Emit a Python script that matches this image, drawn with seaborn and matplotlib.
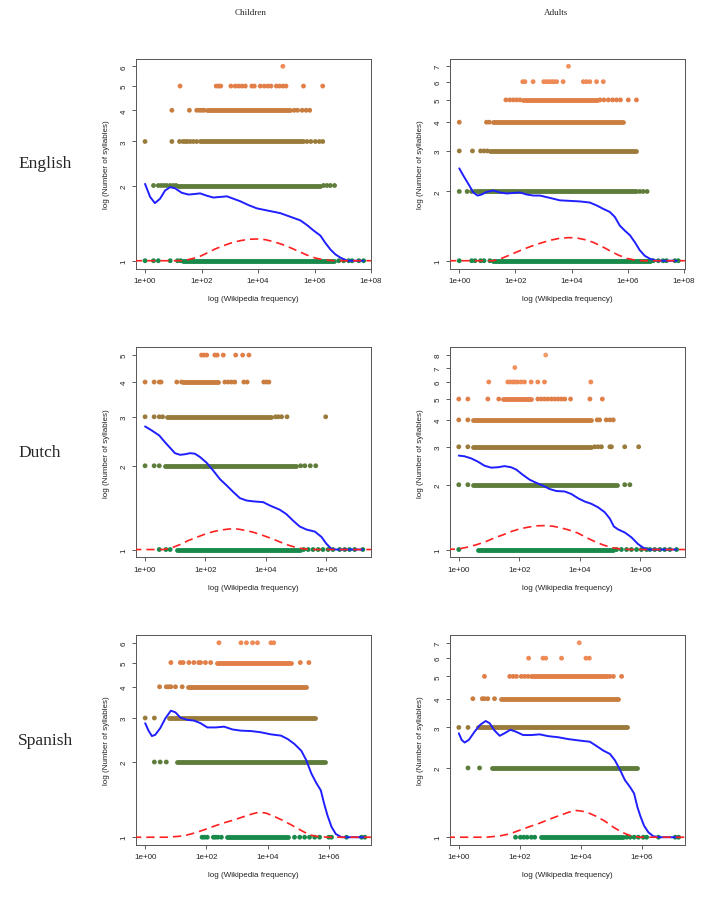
import numpy as np
import pandas as pd
import matplotlib
matplotlib.use("Agg")
import matplotlib.pyplot as plt
import seaborn as sns
from matplotlib.ticker import FixedLocator, FuncFormatter, NullLocator

# x = log10(Wikipedia frequency), y = number of syllables
languages = ["English", "Dutch", "Spanish"]
groups = ["Children", "Adults"]

level_colors = {1: "#17894a", 2: "#5e7d3b", 3: "#9b7b3b", 4: "#c97d3e",
                5: "#e27e47", 6: "#ee8a55", 7: "#f19261", 8: "#f39a69"}

# ---- English, children
en_child_xlim = (-0.32, 8.0)
en_child_bands = [(1, 1.36, 6.68), (2, 1.18, 6.2), (3, 1.95, 5.61), (4, 2.19, 5.14)]
en_child_dots = {
    1: [0, 0.3, 0.47, 0.89, 1.15, 1.26, 6.86, 7.03, 7.21, 7.33, 7.57, 7.74],
    2: [0.3, 0.47, 0.57, 0.67, 0.77, 0.89, 1.0, 1.1, 6.32, 6.44, 6.56, 6.71],
    3: [0, 0.95, 1.22, 1.34, 1.42, 1.5, 1.6, 1.71, 1.83, 5.73, 5.87, 6.03, 6.17, 6.29],
    4: [0.95, 1.57, 1.83, 1.93, 2.01, 2.09, 5.28, 5.4, 5.56, 5.7, 5.83],
    5: [1.24, 2.52, 2.61, 2.68, 3.04, 3.19, 3.31, 3.43, 3.55, 3.78, 3.87, 4.08, 4.22,
        4.35, 4.46, 4.65, 4.76, 4.88, 4.99, 5.61, 6.29],
    6: [4.88],
}
en_child_smooth_x = [0, 0.18, 0.35, 0.53, 0.71, 0.89, 1.06, 1.3, 1.54, 1.77, 1.95, 2.19, 2.42,
                     2.66, 2.9, 3.13, 3.37, 3.66, 3.96, 4.31, 4.79, 5.14, 5.5, 5.73, 5.97,
                     6.21, 6.38, 6.56, 6.74, 6.91, 7.15, 7.74]
en_child_smooth_y = [2.03, 1.80, 1.70, 1.77, 1.91, 1.97, 1.95, 1.87, 1.84, 1.85, 1.86, 1.82, 1.79,
                     1.80, 1.81, 1.77, 1.73, 1.67, 1.62, 1.59, 1.55, 1.50, 1.45, 1.39, 1.32,
                     1.26, 1.18, 1.11, 1.06, 1.03, 1.0, 1.0]
en_child_dens_x = [-0.4, 1.36, 1.6, 1.89, 2.19, 2.48, 2.78, 3.07, 3.37, 3.66, 3.96, 4.26, 4.55,
                   4.85, 5.14, 5.44, 5.73, 6.03, 6.32, 6.68, 8.1]
en_child_dens_y = [1.0, 1.0, 1.015, 1.034, 1.073, 1.114, 1.149, 1.18, 1.203, 1.218, 1.222, 1.214,
                   1.192, 1.163, 1.128, 1.09, 1.054, 1.025, 1.009, 1.0, 1.0]

# ---- English, adults
en_adult_xlim = (-0.33, 8.04)
en_adult_bands = [(1, 1.21, 6.79), (2, 0.62, 6.31), (3, 1.09, 6.31), (4, 1.21, 5.84), (5, 2.28, 4.89)]
en_adult_dots = {
    1: [0, 0.44, 0.56, 0.76, 0.88, 1.09, 6.91, 7.09, 7.26, 7.38, 7.68, 7.8],
    2: [0, 0.28, 0.44, 0.56, 6.43, 6.55, 6.69],
    3: [0, 0.47, 0.76, 0.88, 1.0],
    4: [0, 0.97, 1.07],
    5: [1.66, 1.8, 1.92, 2.04, 2.16, 5.01, 5.15, 5.31, 5.46, 5.6, 5.74, 6.02, 6.31],
    6: [2.26, 2.34, 2.63, 3.01, 3.11, 3.2, 3.29, 3.37, 3.47, 3.7, 4.42, 4.53, 4.65, 4.89, 5.13],
    7: [3.89],
}
en_adult_smooth_x = [0, 0.14, 0.32, 0.5, 0.65, 0.8, 0.97, 1.21, 1.45, 1.69, 1.92, 2.16, 2.4,
                     2.64, 2.87, 3.11, 3.35, 3.58, 3.94, 4.3, 4.65, 4.89, 5.13, 5.36, 5.54,
                     5.72, 5.9, 6.08, 6.26, 6.43, 6.61, 6.79, 7.03, 7.26, 7.74]
en_adult_smooth_y = [2.52, 2.35, 2.16, 1.98, 1.92, 1.94, 1.99, 2.02, 1.98, 1.96, 1.97, 1.98, 1.94,
                     1.92, 1.92, 1.89, 1.86, 1.83, 1.82, 1.81, 1.79, 1.74, 1.68, 1.63, 1.55,
                     1.42, 1.35, 1.29, 1.20, 1.11, 1.05, 1.02, 1.0, 1.0, 1.0]
en_adult_dens_x = [-0.4, 1.21, 1.51, 1.8, 2.1, 2.4, 2.69, 2.99, 3.29, 3.58, 3.88, 4.18, 4.47,
                   4.77, 5.07, 5.36, 5.66, 5.96, 6.26, 6.55, 8.1]
en_adult_dens_y = [1.0, 1.0, 1.024, 1.059, 1.098, 1.136, 1.171, 1.202, 1.231, 1.252, 1.26, 1.256,
                   1.235, 1.202, 1.155, 1.106, 1.059, 1.024, 1.007, 1.0, 1.0]

# ---- Dutch, children
nl_child_xlim = (-0.3, 7.48)
nl_child_bands = [(1, 1.05, 5.12), (2, 0.66, 5.01), (3, 0.72, 4.18), (4, 1.27, 2.42)]
nl_child_dots = {
    1: [0.47, 0.69, 0.83, 5.25, 5.4, 5.56, 5.73, 5.89, 6.06, 6.22, 6.44, 6.61, 6.77, 6.94, 7.21],
    2: [0, 0.3, 0.47, 5.15, 5.29, 5.47, 5.65],
    3: [0, 0.3, 0.47, 0.58, 4.32, 4.41, 4.52, 4.7, 5.98],
    4: [0, 0.3, 0.47, 0.53, 1.05, 1.21, 2.64, 2.75, 2.86, 2.97, 3.27, 3.38, 3.93, 4.02, 4.1],
    5: [1.87, 1.95, 2.04, 2.31, 2.39, 2.59, 3.0, 3.23, 3.44],
}
nl_child_smooth_x = [0, 0.22, 0.47, 0.66, 0.83, 0.99, 1.16, 1.32, 1.49, 1.65, 1.82, 2.04, 2.26,
                     2.48, 2.7, 2.92, 3.14, 3.36, 3.58, 3.91, 4.13, 4.46, 4.68, 4.9, 5.12,
                     5.34, 5.62, 5.84, 6.0, 6.17, 6.33, 7.21]
nl_child_smooth_y = [2.77, 2.68, 2.57, 2.43, 2.32, 2.22, 2.19, 2.20, 2.22, 2.21, 2.15, 2.05, 1.92,
                     1.79, 1.70, 1.61, 1.53, 1.50, 1.49, 1.48, 1.44, 1.39, 1.34, 1.27, 1.21,
                     1.18, 1.16, 1.11, 1.05, 1.005, 1.0, 1.0]
nl_child_dens_x = [-0.4, 0.61, 0.88, 1.16, 1.43, 1.71, 1.98, 2.26, 2.53, 2.81, 3.03, 3.3, 3.58,
                   3.85, 4.13, 4.41, 4.68, 4.96, 5.23, 5.56, 7.6]
nl_child_dens_y = [1.0, 1.0, 1.014, 1.042, 1.077, 1.107, 1.135, 1.16, 1.176, 1.186, 1.186, 1.173,
                   1.154, 1.129, 1.101, 1.071, 1.042, 1.02, 1.006, 1.0, 1.0]

# ---- Dutch, adults
nl_adult_xlim = (-0.29, 7.47)
nl_adult_bands = [(1, 0.63, 5.1), (2, 0.46, 5.21), (3, 0.46, 4.38), (4, 0.46, 4.38), (5, 1.46, 2.39)]
nl_adult_dots = {
    1: [0, 5.21, 5.37, 5.54, 5.7, 5.87, 6.03, 6.2, 6.31, 6.47, 6.64, 6.8, 6.97, 7.19],
    2: [0, 0.3, 5.48, 5.65],
    3: [0, 0.3, 4.49, 4.6, 4.71, 4.99, 5.04, 5.48, 5.94],
    4: [0, 0.3, 4.57, 4.65, 4.87, 4.99, 5.1],
    5: [0, 0.3, 0.96, 1.32, 2.61, 2.72, 2.83, 2.94, 3.06, 3.17, 3.28, 3.39, 3.5, 3.69, 4.33, 4.74],
    6: [0.99, 1.62, 1.7, 1.79, 1.87, 1.95, 2.06, 2.17, 2.39, 2.61, 2.83, 4.36],
    7: [1.85],
    8: [2.87],
}
nl_adult_smooth_x = [0, 0.19, 0.41, 0.63, 0.85, 1.07, 1.29, 1.51, 1.73, 1.9, 2.12, 2.34, 2.56,
                     2.78, 3.0, 3.22, 3.5, 3.72, 3.94, 4.16, 4.38, 4.6, 4.82, 4.99, 5.12,
                     5.26, 5.48, 5.7, 5.92, 6.09, 6.25, 7.19]
nl_adult_smooth_y = [2.73, 2.71, 2.65, 2.56, 2.45, 2.40, 2.41, 2.44, 2.41, 2.35, 2.22, 2.11, 2.04,
                     1.98, 1.91, 1.87, 1.86, 1.81, 1.73, 1.67, 1.63, 1.57, 1.49, 1.39, 1.28,
                     1.24, 1.20, 1.14, 1.06, 1.02, 1.0, 1.0]
nl_adult_dens_x = [-0.4, 0, 0.24, 0.57, 0.9, 1.18, 1.46, 1.73, 2.01, 2.28, 2.56, 2.83, 3.11,
                   3.39, 3.66, 3.94, 4.21, 4.49, 4.76, 5.04, 5.32, 5.65, 7.6]
nl_adult_dens_y = [1.0, 1.007, 1.022, 1.051, 1.089, 1.133, 1.17, 1.212, 1.247, 1.269, 1.288, 1.292,
                   1.283, 1.26, 1.229, 1.191, 1.137, 1.089, 1.051, 1.022, 1.007, 1.0, 1.0]

# ---- Spanish, children
es_child_xlim = (-0.3, 7.38)
es_child_bands = [(1, 2.69, 4.66), (2, 1.04, 5.87), (3, 0.77, 5.54), (4, 1.39, 5.26), (5, 2.36, 4.77)]
es_child_dots = {
    1: [1.86, 1.94, 2.03, 2.23, 2.3, 2.38, 2.49, 4.88, 5.05, 5.21, 5.37, 5.54, 5.7, 6.0, 6.09,
        6.58, 7.07, 7.18],
    2: [0.3, 0.49, 0.69],
    3: [0, 0.3],
    4: [0.47, 0.69, 0.77, 0.84, 0.99, 1.21],
    5: [0.84, 1.15, 1.24, 1.43, 1.59, 1.75, 1.81, 1.97, 2.14, 5.07, 5.35],
    6: [2.41, 3.13, 3.31, 3.51, 3.67, 4.11, 4.2],
}
es_child_smooth_x = [0, 0.11, 0.22, 0.33, 0.49, 0.66, 0.84, 0.99, 1.15, 1.37, 1.59, 1.81, 2.03,
                     2.3, 2.58, 2.85, 3.13, 3.46, 3.78, 4.11, 4.44, 4.66, 4.88, 5.1, 5.26,
                     5.43, 5.59, 5.74, 5.85, 5.96, 6.09, 6.23, 6.42, 7.18]
es_child_smooth_y = [2.86, 2.67, 2.54, 2.57, 2.73, 2.99, 3.21, 3.16, 3.01, 2.95, 2.93, 2.86, 2.75,
                     2.75, 2.77, 2.70, 2.67, 2.66, 2.63, 2.58, 2.55, 2.47, 2.36, 2.22, 2.04,
                     1.80, 1.65, 1.54, 1.36, 1.22, 1.10, 1.03, 1.0, 1.0]
es_child_dens_x = [-0.4, 0.71, 1.26, 1.59, 1.92, 2.25, 2.58, 2.91, 3.24, 3.51, 3.73, 3.95, 4.22,
                   4.5, 4.77, 5.1, 5.37, 5.65, 5.98, 7.5]
es_child_dens_y = [1.0, 1.0, 1.012, 1.038, 1.07, 1.107, 1.142, 1.174, 1.211, 1.241, 1.26, 1.249,
                   1.211, 1.167, 1.121, 1.064, 1.022, 1.006, 1.0, 1.0]

# ---- Spanish, adults
es_adult_xlim = (-0.29, 7.42)
es_adult_bands = [(1, 2.71, 5.4), (2, 1.1, 5.84), (3, 0.63, 5.51), (4, 1.39, 5.23), (5, 2.38, 4.85)]
es_adult_dots = {
    1: [1.86, 2.02, 2.13, 2.24, 2.38, 2.49, 5.51, 5.62, 5.75, 5.89, 6.05, 6.16, 6.55, 7.1, 7.21],
    2: [0.3, 0.68],
    3: [0, 0.3],
    4: [0.46, 0.77, 0.84, 0.95, 1.17],
    5: [0.84, 1.67, 1.78, 1.89, 2.05, 2.16, 2.27, 4.96, 5.07, 5.34],
    6: [2.29, 2.76, 2.85, 3.37, 4.17, 4.28],
    7: [3.95],
}
es_adult_smooth_x = [0, 0.09, 0.19, 0.33, 0.52, 0.7, 0.88, 1.01, 1.17, 1.34, 1.5, 1.69, 1.86,
                     2.11, 2.38, 2.65, 2.93, 3.26, 3.59, 3.97, 4.3, 4.52, 4.74, 4.96, 5.12,
                     5.29, 5.45, 5.62, 5.75, 5.86, 5.97, 6.08, 6.22, 6.38, 6.6, 7.21]
es_adult_smooth_y = [2.83, 2.65, 2.58, 2.65, 2.88, 3.08, 3.20, 3.13, 2.91, 2.76, 2.83, 2.93, 2.88,
                     2.78, 2.78, 2.80, 2.75, 2.72, 2.67, 2.63, 2.60, 2.49, 2.38, 2.30, 2.16,
                     1.96, 1.77, 1.65, 1.55, 1.35, 1.22, 1.12, 1.05, 1.01, 1.0, 1.0]
es_adult_dens_x = [-0.4, 0.9, 1.34, 1.67, 2.0, 2.33, 2.65, 2.98, 3.31, 3.59, 3.81, 4.03, 4.24,
                   4.52, 4.79, 5.07, 5.34, 5.62, 5.95, 7.5]
es_adult_dens_y = [1.0, 1.0, 1.013, 1.034, 1.073, 1.113, 1.151, 1.199, 1.244, 1.282, 1.308, 1.299,
                   1.278, 1.231, 1.175, 1.106, 1.052, 1.017, 1.0, 1.0]

panels = [
    [(en_child_xlim, en_child_bands, en_child_dots, en_child_smooth_x, en_child_smooth_y, en_child_dens_x, en_child_dens_y),
     (en_adult_xlim, en_adult_bands, en_adult_dots, en_adult_smooth_x, en_adult_smooth_y, en_adult_dens_x, en_adult_dens_y)],
    [(nl_child_xlim, nl_child_bands, nl_child_dots, nl_child_smooth_x, nl_child_smooth_y, nl_child_dens_x, nl_child_dens_y),
     (nl_adult_xlim, nl_adult_bands, nl_adult_dots, nl_adult_smooth_x, nl_adult_smooth_y, nl_adult_dens_x, nl_adult_dens_y)],
    [(es_child_xlim, es_child_bands, es_child_dots, es_child_smooth_x, es_child_smooth_y, es_child_dens_x, es_child_dens_y),
     (es_adult_xlim, es_adult_bands, es_adult_dots, es_adult_smooth_x, es_adult_smooth_y, es_adult_dens_x, es_adult_dens_y)],
]

sns.set_style("white")
plt.rcParams["font.family"] = ["Liberation Sans", "DejaVu Sans"]

fig = plt.figure(figsize=(7.17, 9.03), dpi=100)

col_left = [136 / 717, 450 / 717]
row_bottom = [1 - 269.5 / 903, 1 - 558.3 / 903, 1 - 846 / 903]
ax_w = 235 / 717
ax_h = 210 / 903

for r in range(3):
    for c in range(2):
        xlim, bands, dots, sx, sy, dx, dy = panels[r][c]
        ax = fig.add_axes([col_left[c], row_bottom[r], ax_w, ax_h])

        # dense runs of points
        for lev, x0, x1 in bands:
            ax.hlines(lev, 10 ** x0, 10 ** x1, color=level_colors[lev], lw=3.5,
                      capstyle="round", zorder=2)
        # single points
        pts = pd.DataFrame([(10 ** x, lev) for lev, xs in dots.items() for x in xs],
                           columns=["freq", "syl"])
        sns.scatterplot(data=pts, x="freq", y="syl", hue="syl", palette=level_colors,
                        s=12, linewidth=0, legend=False, ax=ax, zorder=3)

        sns.lineplot(x=10 ** np.array(sx), y=sy, color="#1f1fff", lw=1.4, sort=False,
                     estimator=None, ax=ax, zorder=5)
        sns.lineplot(x=10 ** np.array(dx), y=dy, color="#ff2020", lw=1.2, sort=False,
                     estimator=None, ax=ax, zorder=6, linestyle=(0, (5, 3)))

        ax.set_xscale("log")
        ax.set_yscale("log")
        ax.set_xlim(10 ** xlim[0], 10 ** xlim[1])
        top = max(dots.keys())
        L = np.log10(top)
        ax.set_ylim(10 ** (-0.04 * L), 10 ** (1.04 * L))

        ax.xaxis.set_major_locator(FixedLocator([10.0 ** k for k in range(0, 9, 2)]))
        ax.xaxis.set_major_formatter(FuncFormatter(lambda v, p: "1e+%02d" % round(np.log10(v))))
        ax.xaxis.set_minor_locator(NullLocator())
        ax.yaxis.set_major_locator(FixedLocator(list(range(1, top + 1))))
        ax.yaxis.set_major_formatter(FuncFormatter(lambda v, p: "%d" % round(v)))
        ax.yaxis.set_minor_locator(NullLocator())
        ax.tick_params(axis="both", which="major", length=3, width=0.6, color="#444444",
                       labelsize=5.8, labelcolor="#222222", bottom=True, left=True, pad=3)
        for lab in ax.get_yticklabels():
            lab.set_rotation(90)
            lab.set_va("center")
        for sp in ax.spines.values():
            sp.set_color("#555555")
            sp.set_linewidth(0.7)

        ax.set_xlabel("log (Wikipedia frequency)", fontsize=5.8, color="#222222", labelpad=8)
        ax.set_ylabel("log (Number of syllables)", fontsize=5.8, color="#222222", labelpad=8)

for c, g in enumerate(groups):
    fig.text([251 / 717, 556 / 717][c], 1 - 13 / 903, g, ha="center", va="center",
             fontsize=6.5, family="Liberation Serif")
for r, lang in enumerate(languages):
    fig.text(18 / 717, row_bottom[r] + ax_h / 2, lang, ha="left", va="center",
             fontsize=12.5, family="Liberation Serif")

fig.savefig("out.png", dpi=100)
